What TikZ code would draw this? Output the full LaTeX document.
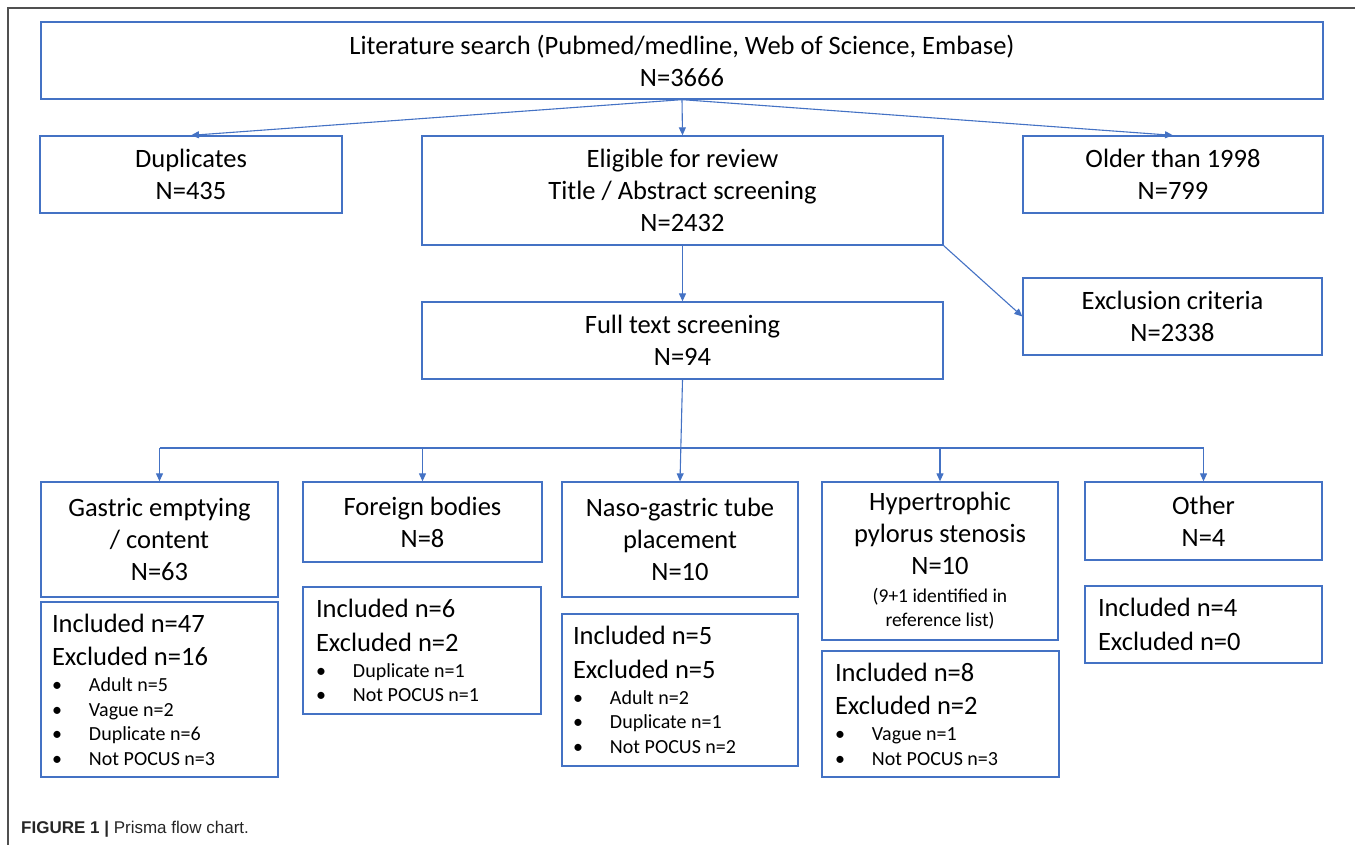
\documentclass[tikz,border=0pt]{standalone}
\usepackage{fontspec}
\setmainfont{Carlito}
\newfontfamily\capfont{Liberation Sans}
\usetikzlibrary{arrows.meta}
\definecolor{boxblue}{RGB}{68,114,196}
\definecolor{framegray}{RGB}{80,80,80}

\begin{document}
\begin{tikzpicture}[x=1pt,y=-1pt,
  font=\fontsize{26.5}{32}\selectfont,
  >={Triangle[length=8pt,width=7pt]},
  box/.style={draw=boxblue,line width=1.3pt,inner sep=0pt,align=center},
  resbox/.style={draw=boxblue,line width=1.3pt,inner sep=0pt,align=flush left},
  flow/.style={->,draw=boxblue,line width=1.1pt}]

\useasboundingbox (0,0) rectangle (1355,845);

%frame of the figure
    \draw[framegray,line width=1.4pt] (1355,8) -- (8,8) -- (8,845);

%top part
    \node[box,minimum width=1282,minimum height=77] (lit) at (682,60.5)
      {Literature search (Pubmed/medline, Web of Science, Embase)\\N=3666};
    \node[box,minimum width=302,minimum height=77] (dup) at (191,174.5)
      {Duplicates\\N=435};
    \node[box,minimum width=521,minimum height=109] (elig) at (682.5,190.5)
      {Eligible for review\\Title / Abstract screening\\N=2432};
    \node[box,minimum width=300,minimum height=77] (old) at (1173,174.5)
      {Older than 1998\\N=799};
    \node[box,minimum width=299,minimum height=77] (excl) at (1172.5,316.5)
      {Exclusion criteria\\N=2338};
    \node[box,minimum width=521,minimum height=77] (full) at (682.5,340.5)
      {Full text screening\\N=94};

%categories
    \node[box,minimum width=237,minimum height=115] (gas) at (159.5,539.5)
      {Gastric emptying\\/ content\\N=63};
    \node[box,minimum width=239,minimum height=80] (for) at (422.5,522)
      {Foreign bodies\\N=8};
    \node[box,minimum width=236,minimum height=115] (naso) at (680,539.5)
      {Naso-gastric tube\\placement\\N=10};
    \node[box,minimum width=236,minimum height=158] (hyp) at (940,561)
      {Hypertrophic\\pylorus stenosis\\N=10\\[-4pt]
       {\fontsize{19.5}{22}\selectfont (9+1 identified in}\\[-8pt]
       {\fontsize{19.5}{22}\selectfont reference list)}};
    \node[box,minimum width=237,minimum height=78] (oth) at (1203.5,521)
      {Other\\N=4};

%results
    \node[resbox,minimum width=237,minimum height=175,text width=215] (gasr) at (159.5,689.5)
      {Included n=47\\[1.5pt]Excluded n=16\\[-6pt]
       {\fontsize{20}{24}\selectfont\makebox[37pt][l]{\textbullet}Adult n=5}\\[-7.5pt]
       {\fontsize{20}{24}\selectfont\makebox[37pt][l]{\textbullet}Vague n=2}\\[-7.5pt]
       {\fontsize{20}{24}\selectfont\makebox[37pt][l]{\textbullet}Duplicate n=6}\\[-7.5pt]
       {\fontsize{20}{24}\selectfont\makebox[37pt][l]{\textbullet}Not POCUS n=3}};
    \node[resbox,minimum width=238,minimum height=127,text width=212] (forr) at (422,650.5)
      {Included n=6\\[1.5pt]Excluded n=2\\[-6pt]
       {\fontsize{20}{24}\selectfont\makebox[37pt][l]{\textbullet}Duplicate n=1}\\[-7.5pt]
       {\fontsize{20}{24}\selectfont\makebox[37pt][l]{\textbullet}Not POCUS n=1}};
    \node[resbox,minimum width=236,minimum height=152,text width=214] (nasor) at (680,690)
      {Included n=5\\[1.5pt]Excluded n=5\\[-6pt]
       {\fontsize{20}{24}\selectfont\makebox[37pt][l]{\textbullet}Adult n=2}\\[-7.5pt]
       {\fontsize{20}{24}\selectfont\makebox[37pt][l]{\textbullet}Duplicate n=1}\\[-7.5pt]
       {\fontsize{20}{24}\selectfont\makebox[37pt][l]{\textbullet}Not POCUS n=2}};
    \node[resbox,minimum width=237,minimum height=126,text width=211] (hypr) at (940.5,714)
      {Included n=8\\[1.5pt]Excluded n=2\\[-6pt]
       {\fontsize{20}{24}\selectfont\makebox[37pt][l]{\textbullet}Vague n=1}\\[-7.5pt]
       {\fontsize{20}{24}\selectfont\makebox[37pt][l]{\textbullet}Not POCUS n=3}};
    \node[resbox,minimum width=237,minimum height=77,text width=211] (othr) at (1203.5,624.5)
      {Included n=4\\[1.5pt]Excluded n=0};

%arrows
    \foreach \b in {dup,elig,old}
    \draw[flow] (lit.south) -- (\b.north);
    \draw[flow] (elig.south east) -- (excl.west);
    \draw[flow] (elig.south) -- (full.north);
    \draw[flow] (full.south) -- (naso.north);

%bus to the categories
    \coordinate (bus) at (682,448);
    \draw[boxblue,line width=1.1pt] (gas.north |- bus) -- (oth.north |- bus);
    \foreach \b in {gas,for,hyp,oth}
    \draw[flow] (\b.north |- bus) -- (\b.north);

%caption
    \node[anchor=base west,inner sep=0pt,text=black!85] (cap) at (21,833)
      {\capfont\fontsize{17}{20}\selectfont\textbf{FIGURE 1 |} Prisma flow chart.};

\end{tikzpicture}
\end{document}
